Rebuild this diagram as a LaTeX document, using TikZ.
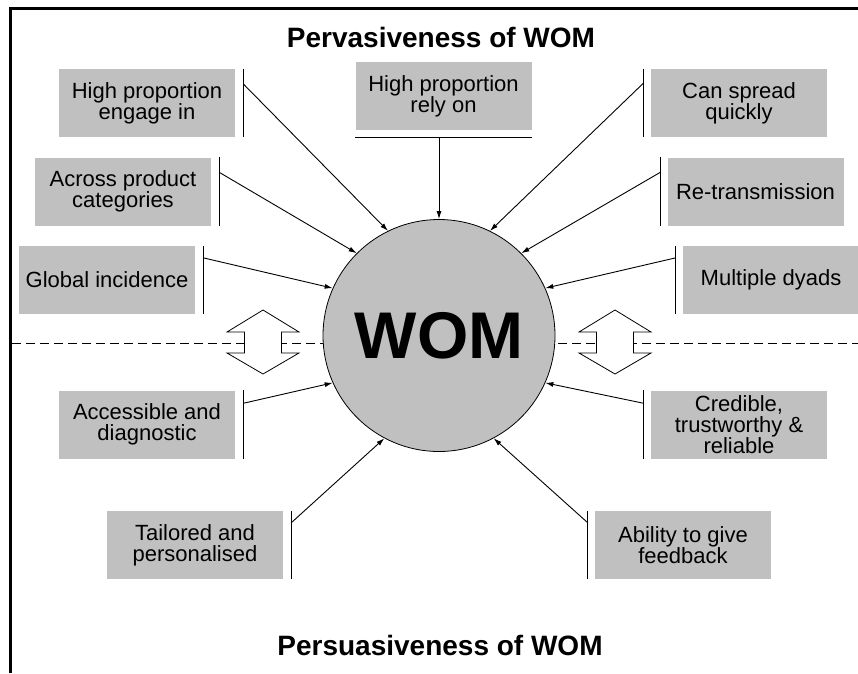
\documentclass[tikz,border=0pt]{standalone}
\usepackage{fontspec}
\setmainfont{Liberation Sans}
\usetikzlibrary{arrows.meta,calc}
\definecolor{boxgray}{RGB}{192,192,192}
\begin{document}
\begin{tikzpicture}[x=1pt,y=-1pt,
  box/.style={fill=boxgray, minimum width=176pt, minimum height=68pt, inner sep=0pt, align=center, font=\fontsize{22}{21}\selectfont},
  arr/.style={-{Latex[length=8pt,width=5pt]}, line width=0.9pt},
  bar/.style={line width=1.1pt},
  dbl/.style={draw, fill=white, line width=0.8pt, line join=miter},
  ttl/.style={anchor=base, font=\bfseries\fontsize{28}{28}\selectfont}
]
\useasboundingbox (0,0) rectangle (858,673);
\fill[white] (0,0) rectangle (858,673);
\draw[line width=3pt] (10.5,673) -- (10.5,8.5) -- (858,8.5);

% dashed divider
\draw[dash pattern=on 9pt off 5pt, line width=1pt] (12,343) -- (858,343);

% titles
\node[ttl] (t1) at (441,47) {Pervasiveness of WOM};
\node[ttl] (t2) at (440,655) {Persuasiveness of WOM};

% centre
\node[circle, draw, line width=0.8pt, fill=boxgray, minimum size=232pt, inner sep=0pt,
      font=\bfseries\fontsize{66}{66}\selectfont] (wom) at (439,335.5) {WOM};

% boxes
\node[box] (b1) at (147,103) {High proportion\\engage in};
\node[box] (b2) at (123,191.5) {Across product\\categories};
\node[box] (b3) at (107,280) {Global incidence};
\node[box] (b4) at (443.5,96) {High proportion\\rely on};
\node[box] (b5) at (739,103) {Can spread\\quickly};
\node[box] (b6) at (755.5,191.5) {Re-transmission};
\node[box] (b7) at (771,280) {Multiple dyads};
\node[box] (b8) at (147,424.5) {Accessible and\\diagnostic};
\node[box] (b9) at (195,545) {Tailored and\\personalised};
\node[box] (b10) at (739,424.5) {Credible,\\trustworthy \&\\reliable};
\node[box] (b11) at (683,545) {Ability to give\\feedback};

% bars on the left-side boxes
\foreach \b/\d in {b1/15,b2/15,b3/12,b8/13,b9/12}{
  \draw[bar] ([xshift=8pt]\b.north east) -- ([xshift=8pt]\b.south east);
  \coordinate (s\b) at ([xshift=8pt,yshift=-\d pt]\b.north east);
}
% bars on the right-side boxes
\foreach \b/\d in {b5/14,b6/15,b7/12,b10/13,b11/12}{
  \draw[bar] ([xshift=-7pt]\b.north west) -- ([xshift=-7pt]\b.south west);
  \coordinate (s\b) at ([xshift=-7pt,yshift=-\d pt]\b.north west);
}
% bar under the top box
\coordinate (r4) at ([yshift=-7pt]b4.south);
\draw[bar] (b4.south west |- r4) -- (b4.south east |- r4);

% connectors
\draw[arr] (sb1) -- (wom.116);
\draw[arr] (sb2) -- (wom.135);
\draw[arr] (sb3) -- (wom.156);
\draw[arr] (wom.north |- r4) -- (wom.north);
\draw[arr] (sb5) -- (wom.64);
\draw[arr] (sb6) -- (wom.45);
\draw[arr] (sb7) -- (wom.24);
\draw[arr] (sb8) -- (wom.204);
\draw[arr] (sb9) -- (wom.242);
\draw[arr] (sb10) -- (wom.336);
\draw[arr] (sb11) -- (wom.298);

% hollow double arrows
\draw[dbl] (263,310) -- (299,332) -- (281.5,332) -- (281.5,353) -- (299,353) -- (263,374)
  -- (227,353) -- (244.5,353) -- (244.5,332) -- (227,332) -- cycle;
\draw[dbl] (615,310) -- (651,332) -- (633.5,332) -- (633.5,353) -- (651,353) -- (615,374)
  -- (579,353) -- (596.5,353) -- (596.5,332) -- (579,332) -- cycle;
\end{tikzpicture}
\end{document}
